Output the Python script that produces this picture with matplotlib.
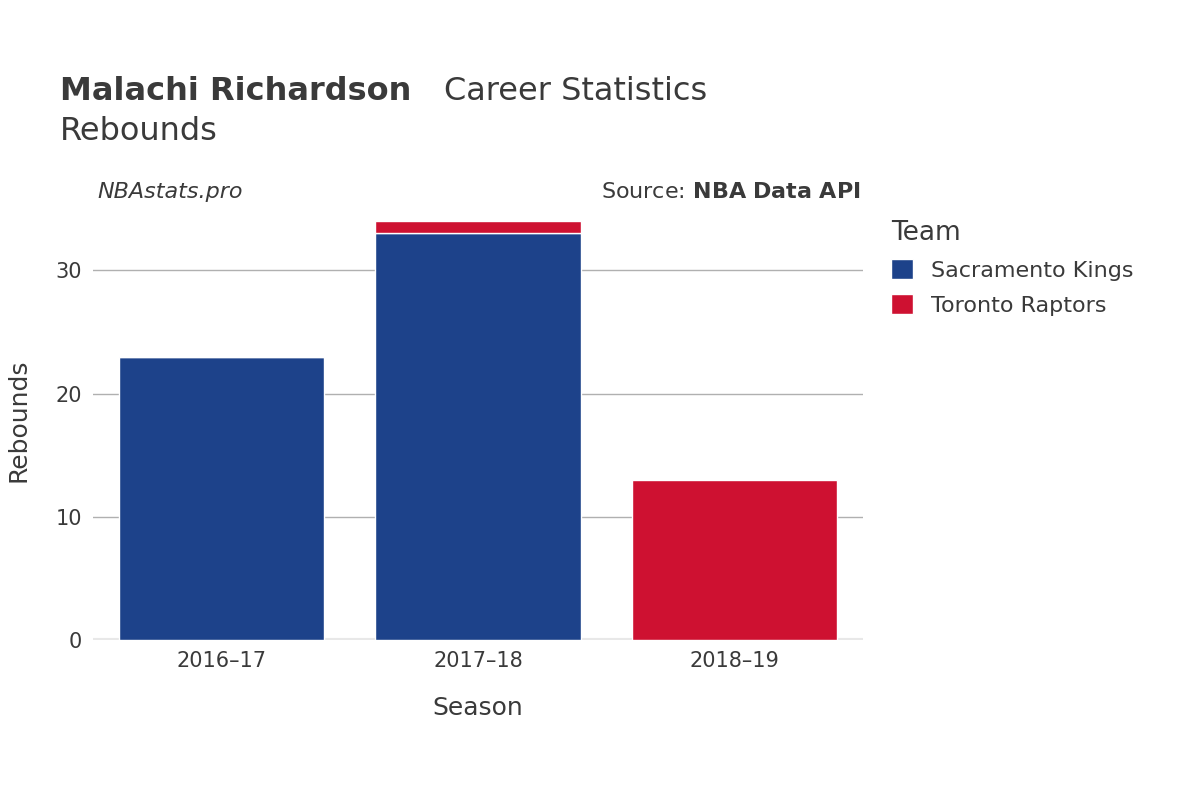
import matplotlib.pyplot as plt

seasons = ["2016\u201317", "2017\u201318", "2018\u201319"]
kings = [23, 33, 0]
raptors = [0, 1, 13]
yticks = [0, 10, 20, 30]

blue = "#1d428a"
red = "#ce1131"
txt = "#3a3a3a"

fig = plt.figure(figsize=(12, 8), dpi=100)
ax = fig.add_axes([0.0775, 0.2, 0.6417, 0.55])

x = range(len(seasons))
ax.bar(x, kings, width=0.8, color=blue, edgecolor="white", linewidth=1, zorder=3, label="Sacramento Kings")
ax.bar(x, raptors, width=0.8, bottom=kings, color=red, edgecolor="white", linewidth=1, zorder=3, label="Toronto Raptors")

ax.set_xlim(-0.5, 2.5)
ax.set_ylim(0, 35.7)
ax.set_yticks(yticks)
ax.set_xticks(list(x))
ax.set_xticklabels(seasons)
ax.tick_params(length=0, labelsize=15, colors=txt, pad=8)
ax.grid(axis="y", color="#b0b0b0", linewidth=1, zorder=0)
ax.axhline(0, color="#e8e8e8", linewidth=3, zorder=2)
for s in ax.spines.values():
    s.set_visible(False)
ax.set_xlabel("Season", fontsize=18, color=txt, labelpad=18)
ax.set_ylabel("Rebounds", fontsize=18, color=txt, labelpad=18)

fig.text(0.05, 0.875, "Malachi Richardson", fontsize=23, fontweight="bold", color=txt, va="baseline")
fig.text(0.37, 0.875, "Career Statistics", fontsize=23, color=txt, va="baseline")
fig.text(0.05, 0.825, "Rebounds", fontsize=23, color=txt, va="baseline")
fig.text(0.081, 0.76, "NBAstats.pro", fontsize=16, style="italic", color=txt, va="center")
fig.text(0.717, 0.76, "Source: $\\bf{NBA\\ Data\\ API}$", fontsize=16, color=txt, ha="right", va="center")

leg = ax.legend(loc="upper left", bbox_to_anchor=(1.01, 1.0), frameon=False, fontsize=16,
                title="Team", title_fontsize=19, labelcolor=txt, handlelength=1, handleheight=1,
                labelspacing=0.6)
leg.get_title().set_color(txt)
leg._legend_box.align = "left"

fig.savefig("out.png")
